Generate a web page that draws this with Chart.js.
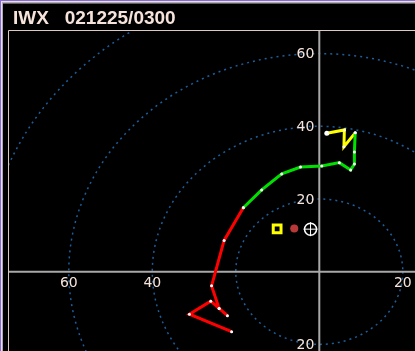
<!DOCTYPE html>
<html>
<head>
<meta charset="utf-8">
<script src="https://cdn.jsdelivr.net/npm/chart.js@4/dist/chart.umd.min.js"></script>
<style>
  html, body { margin: 0; padding: 0; background: #000; }
  canvas { display: block; }
</style>
</head>
<body>
<canvas id="hodo" width="415" height="351"></canvas>
<script>
  const title = 'IWX   021225/0300';

  // hodograph, u / v components in knots, low levels first
  const redU = [-21.0, -31.1, -26.0, -24.0, -22.0, -24.0, -25.8, -22.8, -18.2];
  const redV = [-16.5, -11.7, -8.1, -10.1, -12.1, -10.1, -3.9, 8.6, 17.6];
  const greenU = [-18.2, -13.8, -9.0, -4.5, 0.6, 4.8, 7.5, 8.4, 8.4, 8.6];
  const greenV = [17.6, 22.5, 26.9, 28.8, 29.1, 30.0, 28.0, 29.6, 32.9, 38.2];
  const yellowU = [8.6, 5.9, 6.0, 1.8];
  const yellowV = [38.2, 34.4, 39.0, 38.1];

  // storm motion markers
  const boxMotion = { x: -10.1, y: 11.8 };
  const redMotion = { x: -6.0, y: 11.9 };
  const meanMotion = { x: -2.1, y: 11.7 };

  const rings = [20, 40, 60, 80];
  const xTickValues = [-60, -40, 20];
  const xTickLabels = ['60', '40', '20'];
  const yTickValues = [60, 40, 20, -20];
  const yTickLabels = ['60', '40', '20', '20'];

  function pts(us, vs) {
    return us.map((u, i) => ({ x: u, y: vs[i] }));
  }

  const labelColor = '#f6e4dc';

  const hodoBack = {
    id: 'hodoBack',
    beforeDraw(chart) {
      const ctx = chart.ctx;
      const W = chart.width, H = chart.height;
      ctx.save();
      ctx.fillStyle = '#000';
      ctx.fillRect(0, 0, W, H);
      // window edge
      ctx.fillStyle = '#8a6ad8';
      ctx.fillRect(0, 0, W, 1);
      ctx.fillRect(0, 0, 1, H);
      ctx.fillStyle = '#e4e0e4';
      ctx.fillRect(1, 1, W, 1);
      ctx.fillRect(1, 1, 1, H);
      ctx.fillStyle = '#b0a8b0';
      ctx.fillRect(2, 2, W, 1);
      ctx.fillRect(2, 2, 1, H);
      ctx.fillStyle = '#606060';
      ctx.fillRect(3, 3, W, 1);

      // title
      ctx.fillStyle = labelColor;
      ctx.font = 'bold 19px "Liberation Sans", Arial, sans-serif';
      ctx.textBaseline = 'alphabetic';
      ctx.textAlign = 'left';
      ctx.fillText(title, 13, 24);

      // plot frame
      const a = chart.chartArea;
      ctx.strokeStyle = '#dccac2';
      ctx.lineWidth = 1;
      ctx.beginPath();
      ctx.moveTo(a.left - 0.5, H);
      ctx.lineTo(a.left - 0.5, a.top - 0.5);
      ctx.lineTo(W, a.top - 0.5);
      ctx.stroke();
      ctx.restore();
    },
    beforeDatasetsDraw(chart) {
      const ctx = chart.ctx;
      const a = chart.chartArea;
      const xs = chart.scales.x, ys = chart.scales.y;
      const cx = xs.getPixelForValue(0), cy = ys.getPixelForValue(0);
      ctx.save();
      ctx.beginPath();
      ctx.rect(a.left, a.top, a.right - a.left, a.bottom - a.top);
      ctx.clip();

      // range rings
      ctx.strokeStyle = '#1d5e9c';
      ctx.lineWidth = 1.5;
      ctx.setLineDash([2, 4]);
      rings.forEach(r => {
        const rx = xs.getPixelForValue(r) - cx;
        const ry = cy - ys.getPixelForValue(r);
        ctx.beginPath();
        ctx.ellipse(cx, cy, rx, ry, 0, 0, Math.PI * 2);
        ctx.stroke();
      });
      ctx.setLineDash([]);

      // axes
      ctx.strokeStyle = '#a8a8a8';
      ctx.lineWidth = 2;
      ctx.beginPath();
      ctx.moveTo(a.left, cy);
      ctx.lineTo(a.right, cy);
      ctx.moveTo(cx, a.top);
      ctx.lineTo(cx, a.bottom);
      ctx.stroke();

      // ring labels
      ctx.fillStyle = labelColor;
      ctx.font = '14px "DejaVu Sans", sans-serif';
      ctx.textAlign = 'center';
      ctx.textBaseline = 'top';
      xTickValues.forEach((v, i) => {
        ctx.fillText(xTickLabels[i], xs.getPixelForValue(v), cy + 5);
      });
      ctx.textAlign = 'right';
      ctx.textBaseline = 'middle';
      yTickValues.forEach((v, i) => {
        ctx.fillText(yTickLabels[i], cx - 5, ys.getPixelForValue(v) + 1);
      });
      ctx.restore();
    }
  };

  const lineStyle = {
    showLine: true,
    tension: 0,
    borderWidth: 3,
    pointRadius: 1.5,
    pointBackgroundColor: '#ffffff',
    pointBorderWidth: 0,
    pointHoverRadius: 1.5
  };

  const yellowRadius = yellowU.map((u, i) => i === yellowU.length - 1 ? 2.5 : 1.5);

  const config = {
    type: 'scatter',
    data: {
      datasets: [
        Object.assign({ data: pts(redU, redV), borderColor: '#ff0000' }, lineStyle),
        Object.assign({ data: pts(greenU, greenV), borderColor: '#00e000' }, lineStyle),
        Object.assign({ data: pts(yellowU, yellowV), borderColor: '#ffff00' }, lineStyle,
          { pointRadius: yellowRadius }),
        {
          data: [boxMotion],
          pointStyle: 'rect',
          pointRadius: 5.5,
          borderWidth: 3,
          borderColor: '#ffff00',
          backgroundColor: 'rgba(0,0,0,0)'
        },
        {
          data: [redMotion],
          pointStyle: 'circle',
          pointRadius: 4,
          borderWidth: 0,
          backgroundColor: '#b83838'
        },
        {
          data: [redMotion],
          pointStyle: 'cross',
          pointRadius: 3.5,
          borderWidth: 1,
          borderColor: '#ff8a8a'
        },
        {
          data: [meanMotion],
          pointStyle: 'circle',
          pointRadius: 6,
          borderWidth: 1.5,
          borderColor: '#ffffff',
          backgroundColor: 'rgba(0,0,0,0)'
        },
        {
          data: [meanMotion],
          pointStyle: 'cross',
          pointRadius: 7,
          borderWidth: 1,
          borderColor: '#ffffff'
        }
      ]
    },
    options: {
      responsive: false,
      animation: false,
      events: [],
      layout: { autoPadding: false, padding: { left: 9, top: 31, right: 0, bottom: 0 } },
      scales: {
        x: { type: 'linear', display: false, min: -74.32, max: 22.92 },
        y: { type: 'linear', display: false, min: -21.82, max: 66.22 }
      },
      plugins: {
        legend: { display: false },
        tooltip: { enabled: false },
        title: { display: false }
      }
    },
    plugins: [hodoBack]
  };

  const myChart = new Chart(document.getElementById('hodo'), config);
</script>
</body>
</html>
